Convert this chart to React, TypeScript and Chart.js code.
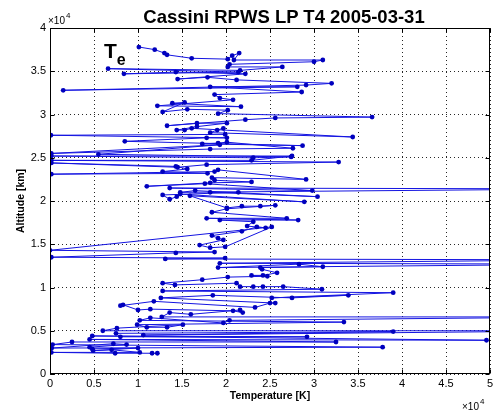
import React, { useEffect, useRef } from "react";
import { Chart, registerables } from "chart.js";

Chart.register(...registerables);

const TITLE = "Cassini RPWS LP T4 2005-03-31";
const X_LABEL = "Temperature [K]";
const Y_LABEL = "Altitude [km]";
const SERIES_LABEL = "T";
const SERIES_SUB = "e";
const X_TICKS = [0, 5000, 10000, 15000, 20000, 25000, 30000, 35000, 40000, 45000, 50000];
const Y_TICKS = [0, 5000, 10000, 15000, 20000, 25000, 30000, 35000, 40000];

const TEMPERATURE_K = [
  10100, 11900, 13000, 13300, 16100, 20200, 20700, 21500, 20900, 31000,
  30000, 20400, 20200, 26400, 21600, 6600, 21400, 8400, 14300, 22200,
  14500, 17900, 21200, 32000, 29100, 1500, 28100, 18200, 28600, 18700,
  19300, 20800, 12200, 21700, 13900, 15300, 12800, 15600, 20200, 19100,
  36600, 25600, 22200, 13300, 16700, 20100, 16700, 14400, 15300, 16100,
  34400, 18200, 19000, 19700, 19900, 100, 20100, 17800, 8500, 28700,
  17300, 19100, 20100, 27600, 18200, 150, 19300, 5500, 27400, 23100,
  150, 27500, 22900, 150, 32800, 17800, 14500, 150, 14300, 15600,
  12800, 17900, 150, 18700, 19100, 29100, 18400, 18700, 22900, 18200,
  11000, 17600, 29800, 13600, 62000, 14800, 16500, 30400, 18200, 21400,
  12800, 13600, 14400, 14800, 28900, 15900, 20100, 21800, 23900, 25600,
  20100, 18400, 26900, 17800, 28200, 19300, 23100, 22400, 24500, 23500,
  21800, 18400, 19100, 19700, 17000, 18200, 19900, 25200, 0, 18700,
  14300, 150, 19900, 13100, 62000, 19300, 62000, 19100, 28300, 31000,
  23900, 24100, 25800, 24200, 22900, 24700, 20200, 17300, 12800, 14200,
  21200, 21600, 23100, 24200, 26500, 30900, 12800, 39000, 25200, 33900,
  27500, 18500, 12600, 25600, 25000, 23300, 11800, 8000, 8300, 10000,
  11400, 20800, 21900, 21600, 16000, 13600, 12700, 62000, 20400, 19700,
  11400, 10200, 33400, 9900, 11000, 13300, 15100, 7600, 6000, 62000,
  10600, 39000, 7500, 8000, 29200, 4800, 49600, 4500, 32500, 2500,
  300, 37800, 200, 7200, 8700, 4500, 4800, 10000, 4900, 7000,
  10200, 150, 7400, 11600, 12200,
];

const ALTITUDE_KM = [
  37800, 37500, 37100, 36900, 36500, 36400, 36800, 37100, 36300, 36300,
  36100, 35800, 35500, 35500, 35100, 35300, 34900, 34700, 34900, 34700,
  34100, 34300, 34000, 33600, 33400, 32800, 33200, 33200, 32600, 32300,
  31900, 31700, 31000, 30900, 31300, 31400, 30300, 30600, 30500, 30100,
  29700, 29600, 29400, 28700, 29000, 29000, 28600, 28200, 28200, 28400,
  27400, 27900, 28200, 28400, 27700, 27600, 27300, 27300, 26900, 26400,
  26600, 26700, 26800, 26100, 26000, 25500, 26500, 25400, 25100, 25000,
  25200, 25200, 24700, 24700, 24500, 24200, 23900, 24400, 24000, 23700,
  23400, 23200, 23100, 23400, 23600, 22500, 22700, 22400, 22200, 22100,
  21700, 22000, 21200, 21500, 21400, 21000, 21200, 20500, 21000, 21000,
  20700, 20200, 20500, 20800, 19900, 20600, 19200, 19400, 19400, 19500,
  19100, 18700, 18000, 18000, 17800, 17800, 17600, 17100, 16900, 17000,
  16500, 16000, 15700, 15500, 14900, 14600, 14700, 17000, 14300, 14100,
  14000, 13500, 13400, 13300, 13200, 12800, 12700, 12300, 12700, 12400,
  12300, 12100, 11700, 11400, 11400, 11300, 11200, 10900, 10500, 10300,
  10500, 10100, 10100, 10100, 10100, 9800, 9600, 9400, 8800, 9100,
  8800, 9100, 8800, 8200, 8200, 7700, 8400, 7900, 8000, 7400,
  7500, 7300, 7100, 7400, 6900, 7100, 6600, 6600, 6200, 5900,
  6500, 6200, 6000, 5700, 5400, 5400, 5700, 5300, 5000, 5000,
  4500, 4900, 4700, 4300, 4300, 4400, 3900, 4000, 3700, 3700,
  3400, 3100, 3000, 3500, 3400, 3100, 2900, 3000, 2700, 2800,
  2500, 2500, 2400, 2400, 2400,
];

const LINE_COLOR = "rgb(20,20,225)";
const MARKER_COLOR = "rgb(0,0,190)";
const FONT = "'Liberation Sans', Arial, sans-serif";

export default function App() {
  const ref = useRef<HTMLCanvasElement>(null);

  useEffect(() => {
    document.body.style.margin = "0";
    const canvas = ref.current;
    if (!canvas) return;
    const points = TEMPERATURE_K.map((t, i) => ({ x: t, y: ALTITUDE_KM[i] }));

    const boxPlugin = {
      id: "matlabBox",
      afterDraw(chart: any) {
        const { ctx, chartArea } = chart;
        const { left, right, top, bottom } = chartArea;
        const xs = chart.scales.x;
        const ys = chart.scales.y;
        ctx.save();
        ctx.strokeStyle = "#000";
        ctx.lineWidth = 1;
        ctx.setLineDash([]);
        const L = Math.round(left) + 0.5;
        const R = Math.round(right) - 0.5;
        const T = Math.round(top) + 0.5;
        const B = Math.round(bottom) - 0.5;
        ctx.strokeRect(L, T, R - L, B - T);
        ctx.beginPath();
        X_TICKS.forEach((v) => {
          const px = Math.round(xs.getPixelForValue(v)) + 0.5;
          ctx.moveTo(px, B);
          ctx.lineTo(px, B - 4);
          ctx.moveTo(px, T);
          ctx.lineTo(px, T + 4);
        });
        Y_TICKS.forEach((v) => {
          const py = Math.round(ys.getPixelForValue(v)) + 0.5;
          ctx.moveTo(L, py);
          ctx.lineTo(L + 4, py);
          ctx.moveTo(R, py);
          ctx.lineTo(R - 4, py);
        });
        ctx.stroke();
        ctx.restore();
      },
    };

    const chart = new Chart(canvas, {
      type: "scatter",
      data: {
        datasets: [
          {
            data: points,
            showLine: true,
            borderColor: LINE_COLOR,
            borderWidth: 1,
            pointRadius: 2.4,
            pointStyle: "circle",
            pointBackgroundColor: MARKER_COLOR,
            pointBorderWidth: 0,
          },
        ],
      },
      options: {
        animation: false,
        responsive: false,
        events: [],
        layout: { padding: { left: 0, right: 6, top: 28, bottom: 0 } },
        plugins: {
          legend: { display: false },
          tooltip: { enabled: false },
          title: { display: false },
        },
        scales: {
          x: {
            type: "linear",
            min: 0,
            max: 50000,
            afterBuildTicks: (s: any) => {
              s.ticks = X_TICKS.map((v) => ({ value: v }));
            },
            afterFit: (s: any) => {
              s.height = 42;
              s.paddingLeft = 0;
              s.paddingRight = 0;
            },
            ticks: {
              callback: (v: any) => String(Number(v) / 10000),
              color: "#000",
              font: { family: FONT, size: 11 },
              padding: 3,
              maxRotation: 0,
              autoSkip: false,
            },
            grid: { color: "rgba(0,0,0,0.85)", drawTicks: false, lineWidth: 1 },
            border: { display: false, dash: [1, 3] },
            title: {
              display: true,
              text: X_LABEL,
              color: "#000",
              font: { family: FONT, size: 10.5, weight: "bold" },
              padding: { top: 0, bottom: 14 },
            },
          },
          y: {
            type: "linear",
            min: 0,
            max: 40000,
            afterBuildTicks: (s: any) => {
              s.ticks = Y_TICKS.map((v) => ({ value: v }));
            },
            afterFit: (s: any) => {
              s.width = 50;
              s.paddingTop = 0;
              s.paddingBottom = 0;
            },
            ticks: {
              callback: (v: any) => String(Number(v) / 10000),
              color: "#000",
              font: { family: FONT, size: 11 },
              padding: 4,
              autoSkip: false,
            },
            grid: { color: "rgba(0,0,0,0.85)", drawTicks: false, lineWidth: 1 },
            border: { display: false, dash: [1, 3] },
            title: {
              display: true,
              text: Y_LABEL,
              color: "#000",
              font: { family: FONT, size: 10.5, weight: "bold" },
              padding: { top: 15, bottom: 0 },
            },
          },
        },
      } as any,
      plugins: [boxPlugin],
    });
    return () => chart.destroy();
  }, []);

  const sup: React.CSSProperties = { fontSize: 8, position: "relative", top: -6, marginLeft: 1 };

  return (
    <div style={{ position: "relative", width: 496, height: 416, overflow: "hidden", background: "#fff" }}>
      <canvas ref={ref} width={496} height={416} style={{ display: "block", width: 496, height: 416 }} />
      <div
        style={{
          position: "absolute",
          left: 284,
          top: 6,
          transform: "translateX(-50%)",
          whiteSpace: "nowrap",
          fontFamily: FONT,
          fontWeight: "bold",
          fontSize: 18.5,
          lineHeight: "22px",
          color: "#000",
        }}
      >
        {TITLE}
      </div>
      <div
        style={{
          position: "absolute",
          left: 104,
          top: 40,
          whiteSpace: "nowrap",
          fontFamily: FONT,
          fontWeight: "bold",
          fontSize: 21,
          lineHeight: "22px",
          color: "#000",
        }}
      >
        {SERIES_LABEL}
        <span style={{ fontSize: 16, position: "relative", top: 7 }}>{SERIES_SUB}</span>
      </div>
      <div
        style={{
          position: "absolute",
          left: 48,
          top: 15,
          whiteSpace: "nowrap",
          fontFamily: FONT,
          fontSize: 10,
          lineHeight: "12px",
          color: "#000",
        }}
      >
        ×10<span style={sup}>4</span>
      </div>
      <div
        style={{
          position: "absolute",
          left: 462,
          top: 401,
          whiteSpace: "nowrap",
          fontFamily: FONT,
          fontSize: 10,
          lineHeight: "12px",
          color: "#000",
        }}
      >
        ×10<span style={sup}>4</span>
      </div>
    </div>
  );
}
